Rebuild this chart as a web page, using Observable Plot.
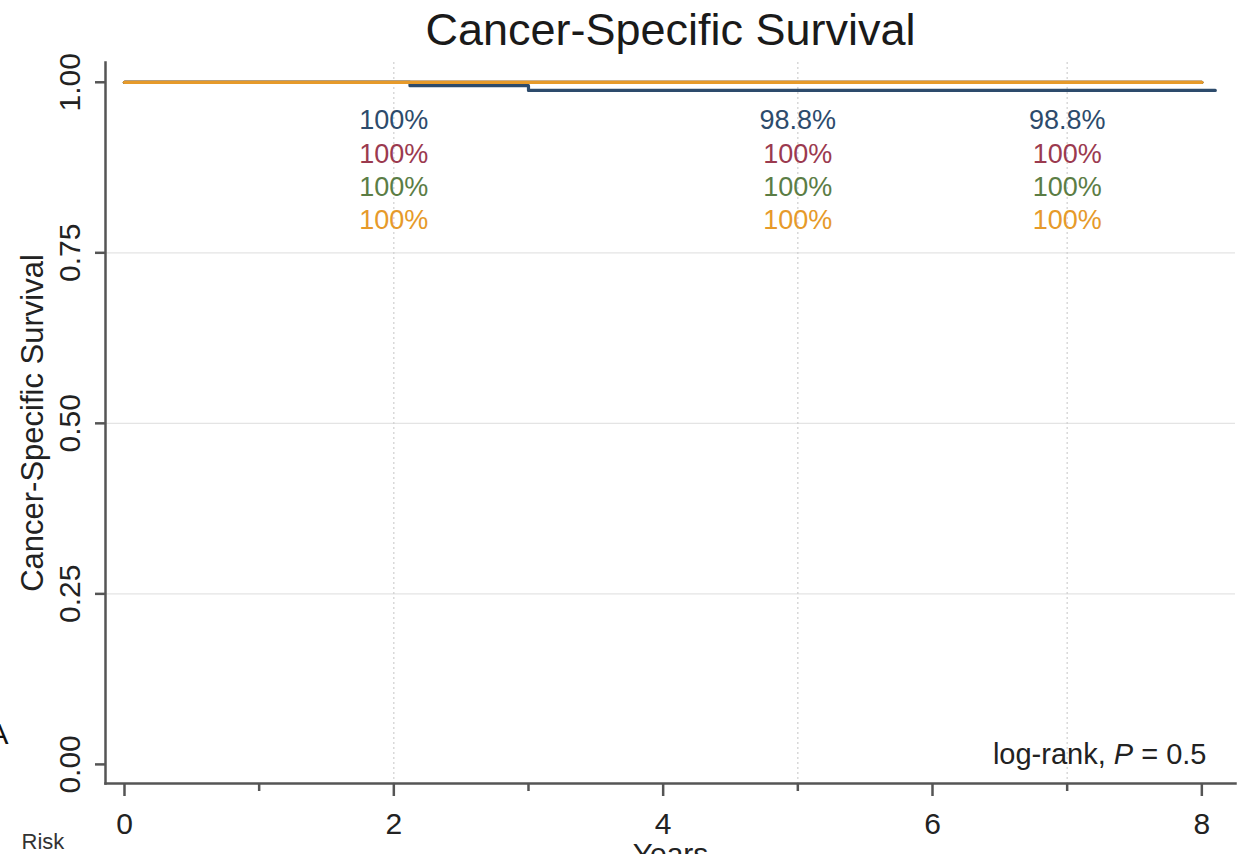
<!DOCTYPE html>
<html>
<head>
<meta charset="utf-8">
<script src="https://cdn.jsdelivr.net/npm/d3@7"></script>
<script src="https://cdn.jsdelivr.net/npm/@observablehq/plot@0.6"></script>
<style>
  html, body { margin: 0; padding: 0; background: #fff; }
  #chart { width: 1247px; height: 854px; overflow: hidden; }
</style>
</head>
<body>
<div id="chart"></div>
<script>
// ---- data ----
const groups = ["Group 1", "Group 2", "Group 3", "Group 4"];
const groupColors = ["#2d4b6c", "#9b3a4f", "#5b7d45", "#e69a2a"];
const g1Times = [0, 2.12, 3.0, 8.1];
const g1Surv  = [1.0, 0.995, 0.988, 0.988];
const g2Times = [0, 8.0];
const g2Surv  = [1.0, 1.0];
const g3Times = [0, 8.0];
const g3Surv  = [1.0, 1.0];
const g4Times = [0, 8.0];
const g4Surv  = [1.0, 1.0];
const labelTimes = [2, 5, 7];
const g1Labels = ["100%", "98.8%", "98.8%"];
const g2Labels = ["100%", "100%", "100%"];
const g3Labels = ["100%", "100%", "100%"];
const g4Labels = ["100%", "100%", "100%"];
const xTicksMajor = [0, 2, 4, 6, 8];
const xTicksMinor = [1, 3, 5, 7];
const yTicks = [0, 0.25, 0.5, 0.75, 1];
const yGrid = [0.25, 0.5, 0.75];
const title = "Cancer-Specific Survival";
const yLabel = "Cancer-Specific Survival";
const xLabel = "Years";
const pText = "log-rank, P = 0.5";

// ---- build tables ----
const seriesT = [g1Times, g2Times, g3Times, g4Times];
const seriesS = [g1Surv, g2Surv, g3Surv, g4Surv];
const seriesL = [g1Labels, g2Labels, g3Labels, g4Labels];
const lines = groups.map((g, gi) => seriesT[gi].map((t, i) => ({group: g, time: t, surv: seriesS[gi][i]})));
const labelRows = [];
groups.forEach((g, gi) => labelTimes.forEach((t, i) => labelRows.push({group: g, gi, time: t, label: seriesL[gi][i]})));

const axisColor = "#555";
const marks = [
  Plot.gridY(yGrid, {stroke: "#e4e4e4", strokeOpacity: 1, strokeWidth: 1.2}),
  Plot.gridX(labelTimes, {stroke: "#cfcfcf", strokeOpacity: 1, strokeDasharray: "2,3", strokeWidth: 1.2}),
  Plot.frame({anchor: "left", stroke: axisColor, strokeWidth: 2.5}),
  Plot.frame({anchor: "bottom", stroke: axisColor, strokeWidth: 2.5}),
  Plot.axisX(xTicksMajor, {tickSize: 13, tickPadding: 16, fontSize: 30, stroke: axisColor, strokeWidth: 2.5,
    fill: "#222", tickFormat: d3.format("d"), label: null}),
  Plot.axisX(xTicksMinor, {tickSize: 8, stroke: axisColor, strokeWidth: 2.5, tickFormat: () => "", label: null}),
  Plot.axisY(yTicks, {tickSize: 10, stroke: axisColor, strokeWidth: 2.5, tickFormat: () => "", label: null}),
  Plot.text(yTicks, {y: d => d, text: d => d3.format(".2f")(d), frameAnchor: "left", rotate: -90,
    textAnchor: "middle", lineAnchor: "bottom", dx: -26, fontSize: 30, fill: "#222"}),
];
// lines: draw group 1..3 then orange on top
[0, 1, 2, 3].forEach(gi => {
  marks.push(Plot.line(lines[gi], {x: "time", y: "surv", curve: "step-after",
    stroke: groupColors[gi], strokeWidth: 3.2}));
});
// survival labels
groups.forEach((g, gi) => {
  marks.push(Plot.text(labelRows.filter(d => d.gi === gi), {x: "time", text: "label", frameAnchor: "top",
    lineAnchor: "middle", dy: 58 + gi * 33.4, fontSize: 27, fill: groupColors[gi]}));
});
marks.push(
  Plot.text([title], {text: d => d, frameAnchor: "top", lineAnchor: "bottom", dy: -18, fontSize: 45, fill: "#1a1a1a"}),
  Plot.text([yLabel], {text: d => d, frameAnchor: "left", rotate: -90, textAnchor: "middle", lineAnchor: "bottom", dx: -63, fontSize: 31, fill: "#222"}),
  Plot.text([xLabel], {text: d => d, frameAnchor: "bottom", lineAnchor: "bottom", dy: 80, fontSize: 30, fill: "#222"}),
  Plot.text([pText], {text: d => d, frameAnchor: "bottom-right", textAnchor: "end", lineAnchor: "bottom", dx: -29, dy: -20, fontSize: 29, fill: "#222"}),
  Plot.text(["A"], {text: d => d, frameAnchor: "bottom-left", textAnchor: "end", lineAnchor: "bottom", dx: -97, dy: -40, fontSize: 30, fill: "#111"}),
  Plot.text(["Risk"], {text: d => d, frameAnchor: "bottom-left", textAnchor: "start", lineAnchor: "bottom", dx: -84, dy: 65, fontSize: 22, fill: "#333"})
);

const chart = Plot.plot({
  width: 1247,
  height: 854,
  marginLeft: 105,
  marginRight: 12,
  marginTop: 62,
  marginBottom: 71,
  x: {domain: [-0.141, 8.25], axis: null},
  y: {domain: [-0.028, 1.029], axis: null},
  style: {fontFamily: "'Liberation Sans', Arial, sans-serif", background: "#fff", color: "#222"},
  marks
});
document.getElementById("chart").appendChild(chart);

// italic P in the log-rank annotation
d3.select(chart).selectAll("text").each(function() {
  if (this.textContent === pText) {
    const t = d3.select(this);
    t.text("");
    t.append("tspan").text("log-rank, ");
    t.append("tspan").attr("font-style", "italic").text("P");
    t.append("tspan").text(" = 0.5");
  }
});
</script>
</body>
</html>
